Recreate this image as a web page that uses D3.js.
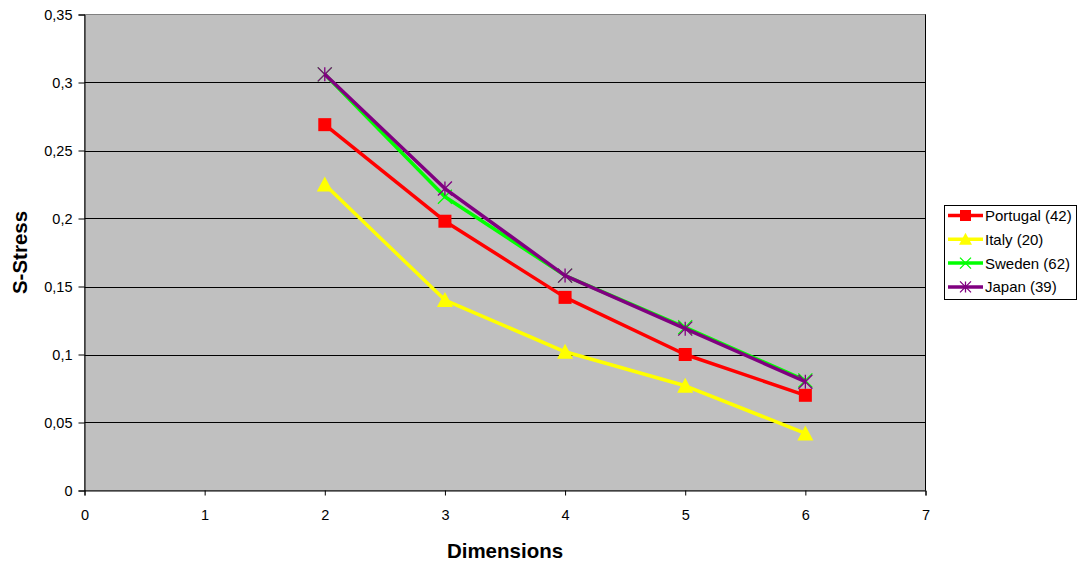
<!DOCTYPE html>
<html>
<head>
<meta charset="utf-8">
<script src="https://cdn.jsdelivr.net/npm/d3@7"></script>
<style>
  html, body { margin: 0; padding: 0; background: #fff; }
  svg { display: block; font-family: "Liberation Sans", Arial, sans-serif; }
</style>
</head>
<body>
<svg id="chart" width="1080" height="566"></svg>
<script>
// Stress values per number of dimensions for each country sample
const dimensions = [2, 3, 4, 5, 6];
const portugal = [0.269, 0.198, 0.142, 0.100, 0.070];
const italy    = [0.225, 0.140, 0.102, 0.077, 0.042];
const sweden   = [0.306, 0.216, 0.158, 0.120, 0.081];
const japan    = [0.306, 0.222, 0.158, 0.119, 0.080];
const seriesNames = ["Portugal (42)", "Italy (20)", "Sweden (62)", "Japan (39)"];
const yTicks = [0, 0.05, 0.1, 0.15, 0.2, 0.25, 0.3, 0.35];
const xTicks = [0, 1, 2, 3, 4, 5, 6, 7];

const series = [
  { name: seriesNames[0], values: portugal, color: "#ff0000", marker: "square" },
  { name: seriesNames[1], values: italy,    color: "#ffff00", marker: "triangle" },
  { name: seriesNames[2], values: sweden,   color: "#00ff00", marker: "cross" },
  { name: seriesNames[3], values: japan,    color: "#800080", marker: "star" }
];

const svg = d3.select("#chart");
const plot = { left: 84.5, right: 925.5, top: 14.5, bottom: 490.5 };

const x = d3.scaleLinear().domain([0, 7]).range([plot.left, plot.right]);
const y = d3.scaleLinear().domain([0, 0.35]).range([plot.bottom, plot.top]);
const fmt = d => String(+d.toFixed(2)).replace(".", ",");

// plot area
svg.append("rect")
  .attr("x", plot.left).attr("y", plot.top)
  .attr("width", plot.right - plot.left).attr("height", plot.bottom - plot.top)
  .attr("fill", "#c0c0c0").attr("stroke", "#808080").attr("stroke-width", 1);

// horizontal gridlines
svg.append("g").selectAll("line")
  .data(yTicks.filter(t => t > 0 && t < 0.35))
  .join("line")
  .attr("x1", plot.left).attr("x2", plot.right)
  .attr("y1", d => Math.round(y(d)) + 0.5).attr("y2", d => Math.round(y(d)) + 0.5)
  .attr("stroke", "#000").attr("stroke-width", 1);

// axes
const yAxis = svg.append("g")
  .attr("transform", `translate(${plot.left},0)`)
  .call(d3.axisLeft(y).tickValues(yTicks).tickFormat(fmt).tickSize(6).tickPadding(6));
const xAxis = svg.append("g")
  .attr("transform", `translate(0,${plot.bottom})`)
  .call(d3.axisBottom(x).tickValues(xTicks).tickFormat(d3.format("d")).tickSize(5).tickPadding(14));
[yAxis, xAxis].forEach(g => {
  g.attr("font-size", 14.5).attr("font-family", "'Liberation Sans', Arial, sans-serif");
  g.select(".domain").attr("stroke", "#000");
  g.selectAll(".tick line").attr("stroke", "#000");
  g.selectAll(".tick text").attr("fill", "#000");
});
// right edge of the plot frame
svg.append("line")
  .attr("x1", plot.right).attr("x2", plot.right)
  .attr("y1", plot.top).attr("y2", plot.bottom)
  .attr("stroke", "#000");

// axis titles
svg.append("text")
  .attr("x", x(3.5)).attr("y", 558)
  .attr("text-anchor", "middle").attr("font-size", 20.5).attr("font-weight", "bold")
  .text("Dimensions");
svg.append("text")
  .attr("transform", `translate(27,${y(0.175)}) rotate(-90)`)
  .attr("text-anchor", "middle").attr("font-size", 20.5).attr("font-weight", "bold")
  .text("S-Stress");

// marker drawing
function drawMarker(g, type, color, cx, cy, s) {
  if (type === "square") {
    g.append("rect").attr("x", cx - s / 2).attr("y", cy - s / 2)
      .attr("width", s).attr("height", s).attr("fill", color);
  } else if (type === "triangle") {
    g.append("path")
      .attr("d", `M${cx},${cy - s / 2 - 1}L${cx + s / 2 + 1},${cy + s / 2}L${cx - s / 2 - 1},${cy + s / 2}Z`)
      .attr("fill", color);
  } else {
    const h = s / 2;
    let d = `M${cx - h},${cy - h}L${cx + h},${cy + h}M${cx - h},${cy + h}L${cx + h},${cy - h}`;
    if (type === "star") d += `M${cx},${cy - h}L${cx},${cy + h}`;
    g.append("path").attr("d", d).attr("stroke", color).attr("stroke-width", 1.3).attr("fill", "none");
  }
}

const line = d3.line().x((d, i) => x(dimensions[i])).y(d => y(d));
const marks = svg.append("g");
series.forEach(s => {
  const g = marks.append("g");
  g.append("path").datum(s.values)
    .attr("d", line).attr("fill", "none")
    .attr("stroke", s.color).attr("stroke-width", 3.5).attr("stroke-linejoin", "round");
  s.values.forEach((v, i) => {
    const size = s.marker === "square" ? 13 : s.marker === "triangle" ? 14 : 14;
    drawMarker(g, s.marker, s.color, x(dimensions[i]), y(v), size);
  });
});

// legend
const lg = svg.append("g");
lg.append("rect").attr("x", 944.5).attr("y", 205.5).attr("width", 132).attr("height", 94)
  .attr("fill", "#fff").attr("stroke", "#000");
series.forEach((s, i) => {
  const cy = 215.5 + i * 23.8;
  lg.append("line").attr("x1", 948).attr("x2", 983).attr("y1", cy).attr("y2", cy)
    .attr("stroke", s.color).attr("stroke-width", 3.5);
  drawMarker(lg, s.marker, s.color, 965.5, cy, s.marker === "square" ? 11 : 11);
  lg.append("text").attr("x", 985).attr("y", cy + 5.5)
    .attr("font-size", 15).attr("fill", "#000").text(s.name);
});
</script>
</body>
</html>
